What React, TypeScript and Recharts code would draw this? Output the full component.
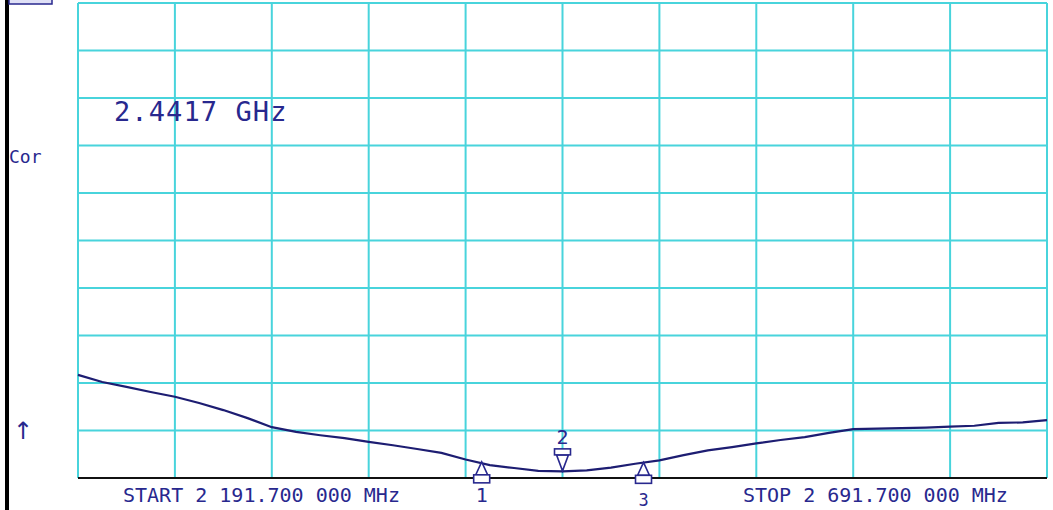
import { ComposedChart, Line, XAxis, YAxis, ReferenceLine, ReferenceDot } from 'recharts';

// sweep points, MHz (12.5 MHz steps, 50 MHz per division)
const FREQ_MHZ = [
  2191.7, 2204.2, 2216.7, 2229.2, 2241.7, 2254.2, 2266.7, 2279.2, 2291.7, 2304.2,
  2316.7, 2329.2, 2341.7, 2354.2, 2366.7, 2379.2, 2391.7, 2404.2, 2416.7, 2429.2,
  2441.7, 2454.2, 2466.7, 2479.2, 2491.7, 2504.2, 2516.7, 2529.2, 2541.7, 2554.2,
  2566.7, 2579.2, 2591.7, 2604.2, 2616.7, 2629.2, 2641.7, 2654.2, 2666.7, 2679.2,
  2691.7,
];

// trace height in screen divisions above the bottom line
const S21_DIV = [
  2.17, 2.02, 1.92, 1.81, 1.71, 1.58, 1.43, 1.26, 1.07, 0.97,
  0.9, 0.84, 0.76, 0.69, 0.61, 0.53, 0.39, 0.27, 0.21, 0.15,
  0.14, 0.16, 0.22, 0.3, 0.37, 0.48, 0.58, 0.65, 0.73, 0.8,
  0.86, 0.95, 1.03, 1.04, 1.05, 1.06, 1.08, 1.1, 1.16, 1.17,
  1.22,
];

const MARKER_IDS = ['1', '2', '3'];
const MARKER_FREQ = [2400.0, 2441.7, 2483.5];
const MARKER_DIV = [0.34, 0.15, 0.33];

const GRID_X = [2191.7, 2241.7, 2291.7, 2341.7, 2391.7, 2441.7, 2491.7, 2541.7, 2591.7, 2641.7, 2691.7];
const GRID_Y = [1, 2, 3, 4, 5, 6, 7, 8, 9, 10];

const data = FREQ_MHZ.map((f, i) => ({ freq: f, s21: S21_DIV[i] }));

const NAVY = '#28288e';
const TRACE = '#1d1d72';
const CYAN = '#48d4dc';
const MONO = '"DejaVu Sans Mono", "Liberation Mono", monospace';

function MarkerShape(props: any) {
  const { cx, cy, id } = props;
  if (cx == null || cy == null) return null;
  if (id === '2') {
    // pointing down, sits above the trace
    return (
      <g fill="#fff" stroke={NAVY} strokeWidth={1.6}>
        <path d={`M${cx - 6},${cy - 16} L${cx + 6},${cy - 16} L${cx},${cy} Z`} />
        <rect x={cx - 8} y={cy - 22} width={16} height={6} />
        <text x={cx} y={cy - 27} textAnchor="middle" fill={NAVY} stroke="none" fontFamily={MONO} fontSize={20}>{id}</text>
      </g>
    );
  }
  // marker 3's number sits lower, right on the bottom edge
  const labelY = id === '3' ? 506 - cy : 502 - cy;
  return (
    <g fill="#fff" stroke={NAVY} strokeWidth={1.6}>
      <path d={`M${cx},${cy} L${cx + 6},${cy + 13} L${cx - 6},${cy + 13} Z`} />
      <rect x={cx - 8} y={cy + 13} width={16} height={8} />
      <text x={cx} y={cy + labelY} textAnchor="middle" fill={NAVY} stroke="none" fontFamily={MONO} fontSize={id === '3' ? 17 : 20}>{id}</text>
    </g>
  );
}

export default function App() {
  return (
    <div style={{ position: 'fixed', left: 0, top: 0, width: 1053, height: 510, background: '#fff', overflow: 'hidden' }}>
      <ComposedChart width={1053} height={510} data={data} margin={{ top: 3, right: 6, bottom: 32, left: 78 }}>
        <XAxis
          dataKey="freq"
          type="number"
          domain={[2191.7, 2691.7]}
          ticks={GRID_X}
          tick={false}
          tickLine={false}
          axisLine={false}
          height={0}
        />
        <YAxis
          type="number"
          domain={[0, 10]}
          tick={false}
          tickLine={false}
          axisLine={false}
          width={0}
        />
        {GRID_X.map((f) => (
          <ReferenceLine key={'gx' + f} x={f} stroke={CYAN} strokeWidth={2} />
        ))}
        {GRID_Y.map((v) => (
          <ReferenceLine key={'gy' + v} y={v} stroke={CYAN} strokeWidth={2} />
        ))}
        <ReferenceLine y={0} stroke="#111" strokeWidth={2} />
        <Line
          type="linear"
          dataKey="s21"
          stroke={TRACE}
          strokeWidth={2.2}
          dot={false}
          isAnimationActive={false}
        />
        {MARKER_IDS.map((id, i) => (
          <ReferenceDot
            key={id}
            x={MARKER_FREQ[i]}
            y={MARKER_DIV[i]}
            ifOverflow="visible"
            shape={(p: any) => <MarkerShape {...p} id={id} />}
          />
        ))}
      </ComposedChart>
      <svg width={1053} height={510} style={{ position: 'absolute', left: 0, top: 0, pointerEvents: 'none' }}>
        <rect x={5} y={0} width={4} height={510} fill="#000" />
        <rect x={9} y={-6} width={43} height={10} fill="#dfe0f6" stroke={NAVY} strokeWidth={1.5} />
        <text x={114} y={121} fill={NAVY} fontFamily={MONO} fontSize={27} letterSpacing={1.1}>2.4417 GHz</text>
        <text x={9} y={163} fill={NAVY} fontFamily={MONO} fontSize={18}>Cor</text>
        <text x={23} y={439} fill={NAVY} fontFamily='"DejaVu Sans", sans-serif' fontSize={24} textAnchor="middle">↑</text>
        <text x={123} y={502} fill={NAVY} fontFamily={MONO} fontSize={20}>START 2 191.700 000 MHz</text>
        <text x={743} y={502} fill={NAVY} fontFamily={MONO} fontSize={20}>STOP 2 691.700 000 MHz</text>
      </svg>
    </div>
  );
}
